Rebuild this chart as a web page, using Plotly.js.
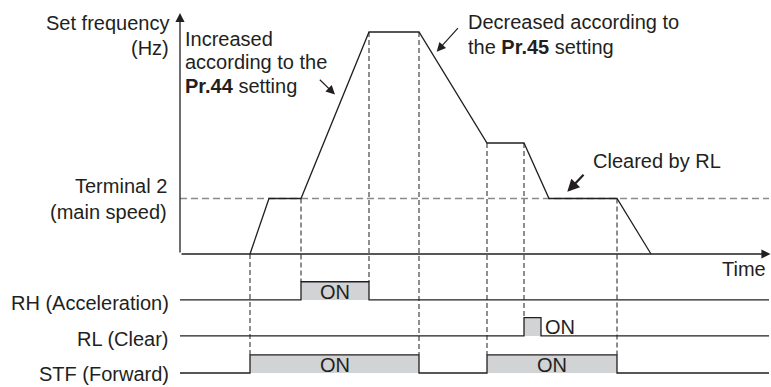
<!DOCTYPE html>
<html>
<head>
<meta charset="utf-8">
<script src="https://cdn.plot.ly/plotly-3.0.1.min.js"></script>
<style>html,body{margin:0;padding:0;background:#fff;}#chart{width:771px;height:387px;}</style>
</head>
<body>
<div id="chart"></div>
<script>
// ---- data ----
const timeEvents = [7.0, 8.9, 12.1, 18.9, 23.9, 30.7, 34.4, 36.9, 43.7, 47.1];
const setFreq    = [0, 25, 25, 100, 100, 50, 50, 25, 25, 0];
const terminal2  = 25;
const signalNames = ['RH (Acceleration)', 'RL (Clear)', 'STF (Forward)'];
const rhOn  = [[12.1, 18.9]];
const rlOn  = [[34.4, 36.1]];
const stfOn = [[7.0, 23.9], [30.7, 43.7]];
const guideTimes = [7.0, 12.1, 18.9, 23.9, 30.7, 34.4, 43.7];
const guideRows  = [2, 0, 0, 2, 2, 1, 2];

// ---- layout constants ----
const INK = '#231f20';
const GRAY = '#d1d3d4';
const FONT = 'Liberation Sans, Arial, Helvetica, sans-serif';
const FS = 20;
const xEnd = 58.9;
const rowBase = [-20.7, -36.9, -53.6];
const rowAmp = 8.2;
const rowLabelY = [-21.85, -38.3, -53.85];
const onIntervals = [rhOn, rlOn, stfOn];

const traces = [];
const shapes = [];
const ann = [];

// terminal 2 dashed reference
traces.push({x:[0, xEnd], y:[terminal2, terminal2], mode:'lines',
  line:{color:'#8a8a8a', width:1.3, dash:'7px,4px'}, hoverinfo:'skip'});

// set frequency curve
traces.push({x:timeEvents, y:setFreq, mode:'lines',
  line:{color:INK, width:1.3}, hoverinfo:'skip'});

// signal rows
onIntervals.forEach((ivs, r) => {
  const b = rowBase[r], h = b + rowAmp;
  traces.push({x:[0, xEnd], y:[b, b], mode:'lines', line:{width:0, color:INK}, hoverinfo:'skip'});
  const xs = [0], ys = [b];
  ivs.forEach(([a, e]) => { xs.push(a, e); ys.push(h, b); });
  xs.push(xEnd); ys.push(b);
  traces.push({x:xs, y:ys, mode:'lines', line:{color:INK, width:1.3, shape:'hv'},
    fill:'tonexty', fillcolor:GRAY, hoverinfo:'skip'});
  ivs.forEach(([a, e]) => {
    if (r === 1) {
      ann.push({x:e + 0.2, y:b + rowAmp/2, text:'ON', xanchor:'left', yanchor:'middle', showarrow:false});
    } else {
      ann.push({x:(a+e)/2, y:b + rowAmp/2 - 0.4, text:'ON', xanchor:'center', yanchor:'middle', showarrow:false});
    }
  });
  ann.push({x:-0.9, y:rowLabelY[r], text:signalNames[r], xanchor:'right', yanchor:'middle', showarrow:false});
});

// vertical dashed guides
guideTimes.forEach((t, i) => {
  const k = timeEvents.indexOf(t);
  let top;
  if (k >= 0) top = setFreq[k];
  else {
    for (let j = 0; j < timeEvents.length - 1; j++) {
      if (t >= timeEvents[j] && t <= timeEvents[j+1]) {
        top = setFreq[j] + (setFreq[j+1]-setFreq[j])*(t-timeEvents[j])/(timeEvents[j+1]-timeEvents[j]);
      }
    }
  }
  shapes.push({type:'line', xref:'x', yref:'y', x0:t, x1:t, y0:top, y1:rowBase[guideRows[i]] + rowAmp,
    line:{color:'#333', width:1.1, dash:'5px,3px'}, layer:'below'});
});

// axes arrows
ann.push({x:0, y:108.6, ax:0, ay:0, axref:'x', ayref:'y', text:'', showarrow:true,
  arrowhead:2, arrowsize:1.4, arrowwidth:1.3, arrowcolor:INK});
ann.push({x:59.05, y:0, ax:0, ay:0, axref:'x', ayref:'y', text:'', showarrow:true,
  arrowhead:2, arrowsize:1.4, arrowwidth:1.3, arrowcolor:INK});

// pointer arrows
ann.push({x:15.5, y:71.85, ax:13.83, ay:79.14, axref:'x', ayref:'y', text:'', showarrow:true,
  arrowhead:2, arrowsize:1.5, arrowwidth:1.2, arrowcolor:INK});
ann.push({x:25.67, y:91.13, ax:27.93, ay:102.39, axref:'x', ayref:'y', text:'', showarrow:true,
  arrowhead:2, arrowsize:1.5, arrowwidth:1.2, arrowcolor:INK});
ann.push({x:38.73, y:28.06, ax:40.5, ay:36.35, axref:'x', ayref:'y', text:'', showarrow:true,
  arrowhead:2, arrowsize:1.1, arrowwidth:2.2, arrowcolor:INK});

// text labels
const txt = (x, y, t, xa) => ann.push({x, y, text:t, xanchor:xa, yanchor:'middle', showarrow:false});
txt(-0.9, 103.83, 'Set frequency', 'right');
txt(-0.9, 92.79, '(Hz)', 'right');
txt(-1.1, 30.41, 'Terminal 2', 'right');
txt(-1.1, 19.14, '(main speed)', 'right');
txt(58.8, -6.76, 'Time', 'right');
txt(0.3, 97.07, 'Increased', 'left');
txt(0.3, 86.49, 'according to the', 'left');
txt(0.3, 75.45, '<b>Pr.44</b> setting', 'left');
txt(28.6, 104.5, 'Decreased according to', 'left');
txt(28.6, 93.02, 'the <b>Pr.45</b> setting', 'left');
txt(41.1, 41.67, 'Cleared by RL', 'left');

const layout = {
  width:771, height:387,
  margin:{l:0, r:0, t:0, b:0},
  paper_bgcolor:'#fff', plot_bgcolor:'#fff',
  showlegend:false,
  font:{family:FONT, size:FS, color:INK},
  xaxis:{range:[-18, 59.1], visible:false, fixedrange:true},
  yaxis:{range:[-59.91, 114.41], visible:false, fixedrange:true},
  shapes, annotations:ann, hovermode:false
};
Plotly.newPlot('chart', traces, layout, {staticPlot:true, displayModeBar:false});
</script>
</body>
</html>
